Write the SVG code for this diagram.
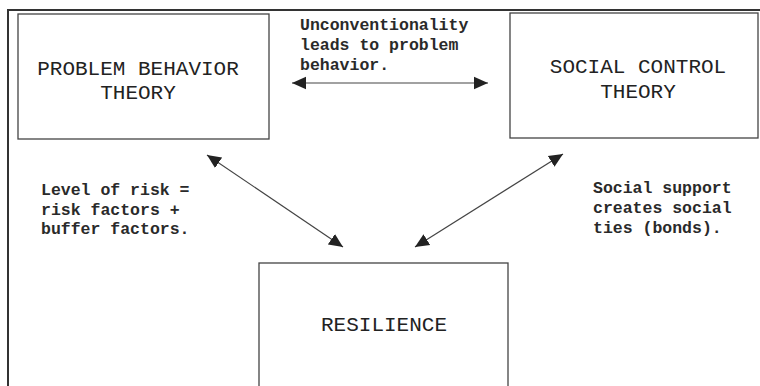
<svg xmlns="http://www.w3.org/2000/svg" width="760" height="386" viewBox="0 0 760 386">
<defs>
<marker id="ah" viewBox="0 0 10 10" refX="10" refY="5" markerWidth="14" markerHeight="14" markerUnits="userSpaceOnUse" orient="auto-start-reverse">
<path d="M0,0.5 L10,5 L0,9.5 Z" fill="#222"/>
</marker>
<style>
.box{fill:#fff;stroke:#444;stroke-width:1.3}
.big{font-family:"Liberation Mono","Courier New",monospace;font-size:21px;fill:#222;text-anchor:middle}
.small{font-family:"Liberation Mono","Courier New",monospace;font-size:16.5px;font-weight:bold;fill:#2a2a2a}
.conn{stroke:#444;stroke-width:1.2;fill:none;marker-start:url(#ah);marker-end:url(#ah)}
</style>
</defs>
<rect width="760" height="386" fill="#fff"/>
<path d="M8,400 L8,10 L770,10" fill="none" stroke="#333" stroke-width="2"/>
<g id="problem-behavior">
<rect class="box" x="18" y="14" width="251" height="125"/>
<text class="big" x="138" y="75">PROBLEM BEHAVIOR</text>
<text class="big" x="138" y="99">THEORY</text>
</g>
<g id="social-control">
<rect class="box" x="510" y="13" width="248" height="125"/>
<text class="big" x="638" y="73">SOCIAL CONTROL</text>
<text class="big" x="638" y="98">THEORY</text>
</g>
<g id="resilience">
<rect class="box" x="259" y="263" width="249" height="140"/>
<text class="big" x="384" y="331">RESILIENCE</text>
</g>
<g id="connectors">
<line class="conn" x1="292" y1="83" x2="488" y2="83"/>
<line class="conn" x1="207" y1="155" x2="343" y2="247"/>
<line class="conn" x1="563" y1="154" x2="415" y2="247"/>
</g>
<g id="labels">
<text class="small" x="300" y="30">Unconventionality</text>
<text class="small" x="300" y="50">leads to problem</text>
<text class="small" x="300" y="70">behavior.</text>
<text class="small" x="41" y="195">Level of risk =</text>
<text class="small" x="41" y="215">risk factors +</text>
<text class="small" x="41" y="234">buffer factors.</text>
<text class="small" x="593" y="193">Social support</text>
<text class="small" x="593" y="213">creates social</text>
<text class="small" x="593" y="233">ties (bonds).</text>
</g>
</svg>
